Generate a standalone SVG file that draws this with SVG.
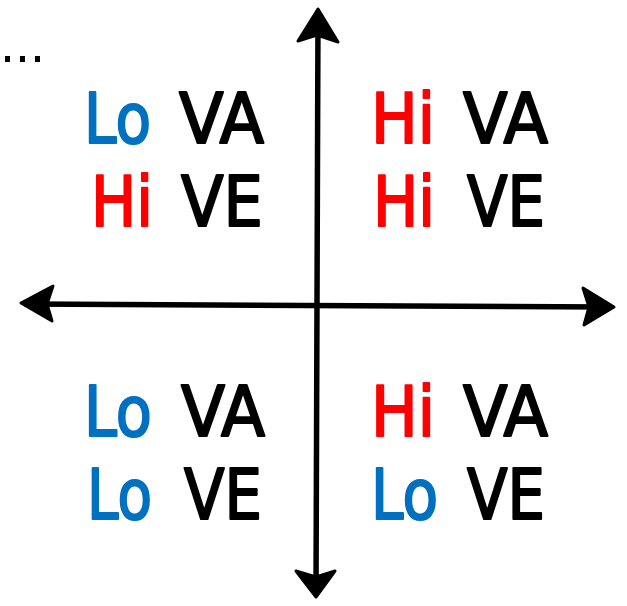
<svg xmlns="http://www.w3.org/2000/svg" width="627" height="606" viewBox="0 0 627 606">
<style>
.t{font-family:"DejaVu Sans","Noto Sans",sans-serif;font-size:70px;stroke-width:2.2px;stroke-linejoin:round;}
.lo{fill:#0070C0;stroke:#0070C0;}
.hi{fill:#FF0000;stroke:#FF0000;}
.k{fill:#000;stroke:#000;}
.ax{stroke:#000;stroke-width:5.5;fill:none;stroke-linecap:round;}
.ah{fill:#000;stroke:#000;stroke-width:3;stroke-linejoin:round;}
</style>
<rect width="627" height="606" fill="#fff"/>
<g id="connectors">
<line class="ax" x1="318" y1="14" x2="316" y2="592"/>
<line class="ax" x1="26" y1="304" x2="608" y2="307"/>
<polygon class="ah" points="318,9 298,41 317,35 338,42"/>
<polygon class="ah" points="316,597 296,571 316,577 335,571"/>
<polygon class="ah" points="21,303 53,286 47,304 52,321"/>
<polygon class="ah" points="614,307 583,288 589,307 584,325"/>
</g>
<g id="dots">
<rect x="5" y="56" width="5" height="6" fill="#000"/>
<rect x="20" y="56" width="5" height="6" fill="#000"/>
<rect x="35" y="56" width="5" height="6" fill="#000"/>
</g>
<g id="q1">
<text class="t lo" x="84" y="143" textLength="67" lengthAdjust="spacingAndGlyphs">Lo</text>
<text class="t k" x="179" y="143" textLength="85" lengthAdjust="spacingAndGlyphs">VA</text>
<text class="t hi" x="91" y="226" textLength="62" lengthAdjust="spacingAndGlyphs">Hi</text>
<text class="t k" x="181" y="226" textLength="82" lengthAdjust="spacingAndGlyphs">VE</text>
</g>
<g id="q2">
<text class="t hi" x="371" y="143" textLength="64" lengthAdjust="spacingAndGlyphs">Hi</text>
<text class="t k" x="463" y="143" textLength="85" lengthAdjust="spacingAndGlyphs">VA</text>
<text class="t hi" x="373" y="226" textLength="62" lengthAdjust="spacingAndGlyphs">Hi</text>
<text class="t k" x="467" y="226" textLength="78" lengthAdjust="spacingAndGlyphs">VE</text>
</g>
<g id="q3">
<text class="t lo" x="84" y="436" textLength="68" lengthAdjust="spacingAndGlyphs">Lo</text>
<text class="t k" x="181" y="436" textLength="84" lengthAdjust="spacingAndGlyphs">VA</text>
<text class="t lo" x="87" y="519" textLength="65" lengthAdjust="spacingAndGlyphs">Lo</text>
<text class="t k" x="184" y="519" textLength="78" lengthAdjust="spacingAndGlyphs">VE</text>
</g>
<g id="q4">
<text class="t hi" x="371" y="436" textLength="64" lengthAdjust="spacingAndGlyphs">Hi</text>
<text class="t k" x="463" y="436" textLength="85" lengthAdjust="spacingAndGlyphs">VA</text>
<text class="t lo" x="371" y="519" textLength="67" lengthAdjust="spacingAndGlyphs">Lo</text>
<text class="t k" x="467" y="519" textLength="78" lengthAdjust="spacingAndGlyphs">VE</text>
</g>
</svg>
